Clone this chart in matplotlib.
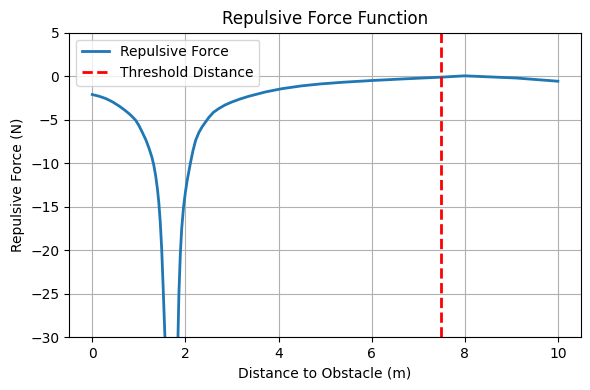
import matplotlib
matplotlib.use('Agg')
import matplotlib.pyplot as plt

# values
distance = [0, 0.15, 0.29, 0.43, 0.57, 0.68, 0.79, 0.86, 0.93, 1.0, 1.07, 1.15, 1.22,
            1.28, 1.32, 1.36, 1.40, 1.43, 1.46, 1.49, 1.52, 1.56, 1.6, 1.64,
            1.76, 1.8, 1.84, 1.86, 1.89, 1.92, 1.96, 2.0, 2.04, 2.11, 2.16, 2.22,
            2.29, 2.36, 2.5, 2.6, 2.72, 2.85, 3.0, 3.18, 3.36, 3.72, 4.08,
            4.5, 4.9, 5.4, 6, 6.7, 7.5, 8, 9.1, 10]
force = [-2.1, -2.3, -2.56, -2.93, -3.4, -3.82, -4.3, -4.65, -5.05, -5.65, -6.4, -7.3, -8.3,
         -9.3, -10.2, -11.4, -13.0, -14.6, -16.8, -19.8, -24, -30, -45, -200,
         -200, -45, -30, -25, -20.5, -17.5, -15, -13.3, -11.9, -9.9, -8.6, -7.35,
         -6.45, -5.8, -4.75, -4.15, -3.7, -3.3, -2.95, -2.6, -2.3, -1.8, -1.42,
         -1.1, -0.88, -0.68, -0.49, -0.3, -0.1, 0.05, -0.2, -0.57]
threshold = 7.5

plt.figure(figsize=(5.9, 3.9), dpi=100)
plt.plot(distance, force, linewidth=2, label='Repulsive Force')
plt.axvline(threshold, color='r', linestyle='--', linewidth=2, label='Threshold Distance')
plt.ylim(-30, 5)
plt.title('Repulsive Force Function')
plt.xlabel('Distance to Obstacle (m)')
plt.ylabel('Repulsive Force (N)')
plt.grid(True)
plt.legend(loc='upper left')
plt.subplots_adjust(left=0.117, right=0.985, top=0.916, bottom=0.135)
plt.savefig('out.png')
